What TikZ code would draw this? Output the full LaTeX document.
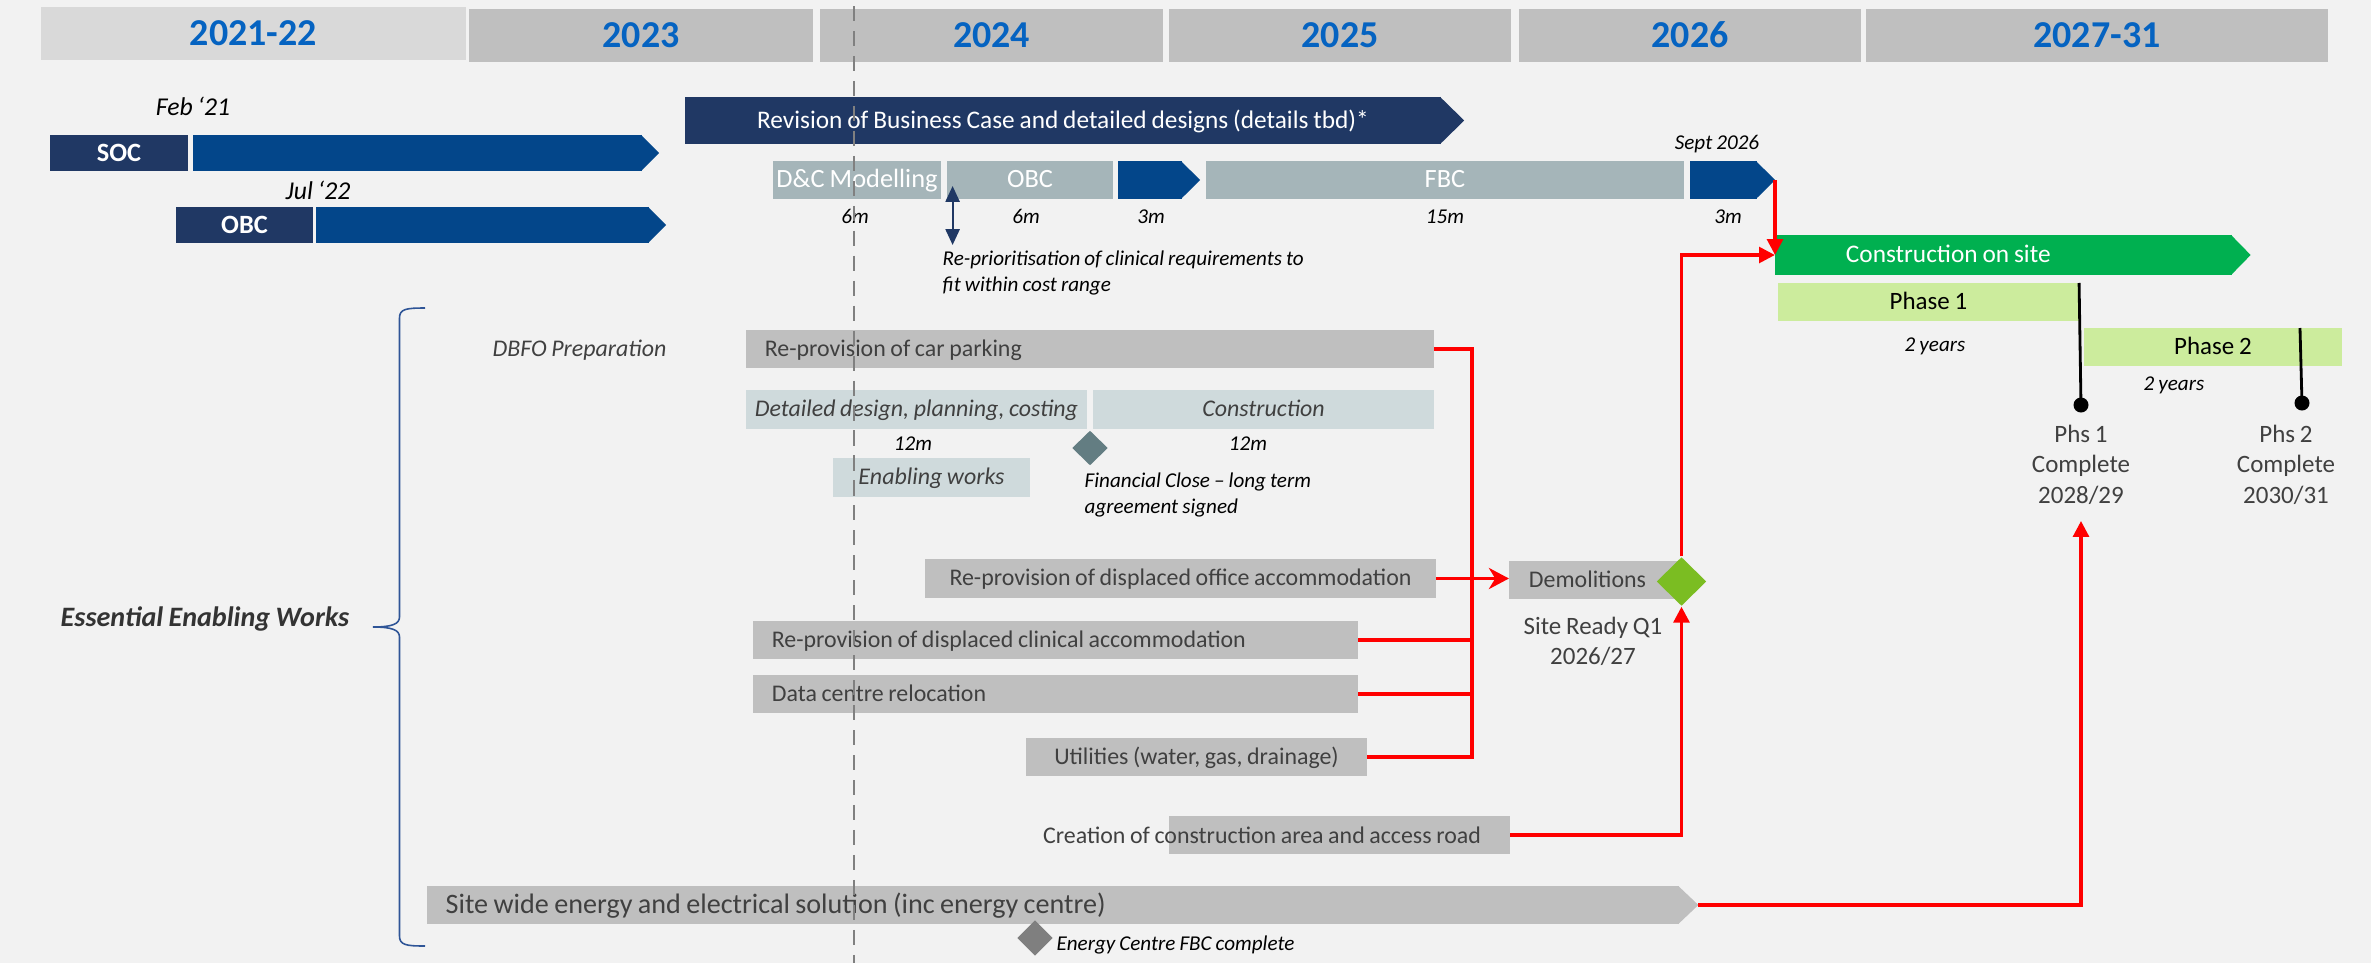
\documentclass[tikz,border=0pt]{standalone}
\usepackage{fontspec}
\setmainfont{Carlito}[WordSpace=0.85]
\usetikzlibrary{arrows.meta,shapes.geometric}
\newcommand{\normsp}{\spaceskip=0pt\xspaceskip=0pt\relax}
\definecolor{bgc}{HTML}{F2F2F2}
\definecolor{hdrlight}{HTML}{D9D9D9}
\definecolor{hdrgray}{HTML}{BFBFBF}
\definecolor{hdrblue}{HTML}{0563C1}
\definecolor{navy}{HTML}{203864}
\definecolor{midblue}{HTML}{03468A}
\definecolor{slate}{HTML}{A5B5B9}
\definecolor{paleslate}{HTML}{CFDADC}
\definecolor{fcdiamond}{HTML}{637D82}
\definecolor{boxgray}{HTML}{BFBFBF}
\definecolor{txtgray}{HTML}{404040}
\definecolor{cgreen}{HTML}{00B050}
\definecolor{lgreen}{HTML}{CCEC9D}
\definecolor{dgreen}{HTML}{7BBD22}
\definecolor{dgray}{HTML}{7F7F7F}
\definecolor{bracec}{HTML}{2F5597}
\definecolor{dashc}{HTML}{808080}
\definecolor{esscol}{HTML}{333333}
\begin{document}
\begin{tikzpicture}[x=0.01cm,y=-0.01cm,
  bx/.style={rectangle,inner sep=0pt,outer sep=0pt},
  hdr/.style={bx,minimum height=0.53cm,font=\fontsize{10.8}{13}\selectfont\bfseries,text=hdrblue,text height=6.8pt,text depth=0pt},
  f68/.style={font=\fontsize{6.8}{8.2}\selectfont,text height=4.1pt,text depth=0pt},
  f68it/.style={font=\fontsize{6.8}{8.2}\selectfont\itshape,text height=4.1pt,text depth=0pt},
  note/.style={font=\fontsize{6}{7.4}\selectfont\itshape,text height=3.6pt,text depth=0pt,inner sep=0pt},
  datelbl/.style={font=\fontsize{7.3}{8.8}\selectfont\itshape,text height=4.4pt,text depth=0pt,inner sep=0pt},
  wt/.style={text=white,font=\fontsize{7.5}{9}\selectfont,text height=4.5pt,text depth=0pt},
  wtb/.style={text=white,font=\fontsize{7.5}{9}\selectfont\bfseries,text height=4.8pt,text depth=0pt},
  rowbox/.style={bx,minimum height=0.38cm,wt},
  graybox/.style={bx,fill=boxgray,minimum height=0.38cm,f68,text=txtgray},
  palebox/.style={bx,fill=paleslate,minimum height=0.39cm,f68it,text=txtgray},
  phasebox/.style={bx,fill=lgreen,minimum height=0.38cm,font=\fontsize{7.1}{8.6}\selectfont,text height=4.3pt,text depth=0pt},
  milestone/.style={font=\fontsize{7.1}{8.7}\selectfont,text=txtgray,align=center,anchor=north,inner sep=0pt},
  dot/.style={circle,fill=black,minimum size=0.15cm,inner sep=0pt},
  conn/.style={draw=red,line width=0.9pt},
  tri/.style={-{Triangle[length=4.5pt,width=4.5pt]}}
]
\useasboundingbox (0,0) rectangle (2371,963);
\fill[bgc] (0,0) rectangle (2371,963);

% ---- year headers
\node[hdr,fill=hdrlight,minimum width=4.25cm] (y21) at (253.5,33.5) {2021-22};
\node[hdr,fill=hdrgray,minimum width=3.44cm] (y23) at (641,35.5) {2023};
\node[hdr,fill=hdrgray,minimum width=3.43cm] (y24) at (991.5,35.5) {2024};
\node[hdr,fill=hdrgray,minimum width=3.42cm] (y25) at (1340,35.5) {2025};
\node[hdr,fill=hdrgray,minimum width=3.42cm] (y26) at (1690,35.5) {2026};
\node[hdr,fill=hdrgray,minimum width=4.62cm] (y27) at (2097,35.5) {2027-31};

% ---- SOC / OBC
\node[datelbl] (feb) at (193,108) {Feb ‘21};
\node[bx,fill=navy,minimum width=1.38cm,minimum height=0.36cm,wtb] (soc) at (119,153) {SOC};
\node[bx,fill=midblue,minimum width=4.49cm,minimum height=0.36cm] (socbar) at (417.5,153) {};
\fill[midblue] ([xshift=-0.3pt]socbar.north east) -- ([xshift=0.17cm]socbar.east) -- ([xshift=-0.3pt]socbar.south east) -- cycle;

\node[datelbl] (jul) at (318,192) {Jul ‘22};
\node[bx,fill=navy,minimum width=1.37cm,minimum height=0.36cm,wtb] (obc1) at (244.5,225) {OBC};
\node[bx,fill=midblue,minimum width=3.33cm,minimum height=0.36cm] (obcbar) at (482.5,225) {};
\fill[midblue] ([xshift=-0.3pt]obcbar.north east) -- ([xshift=0.17cm]obcbar.east) -- ([xshift=-0.3pt]obcbar.south east) -- cycle;

% ---- revision arrow
\node[bx,fill=navy,minimum width=7.56cm,minimum height=0.47cm,text=white,font=\fontsize{7.2}{8.6}\selectfont,text height=4.3pt,text depth=0pt] (rev) at (1063,120.5) {Revision of Business Case and detailed designs (details tbd)*};
\fill[navy] ([xshift=-0.3pt]rev.north east) -- ([xshift=0.23cm]rev.east) -- ([xshift=-0.3pt]rev.south east) -- cycle;

% ---- business case row
\node[rowbox,fill=slate,minimum width=1.68cm] (dc) at (857,180) {D\&C Modelling};
\node[rowbox,fill=slate,minimum width=1.66cm] (obc2) at (1030,180) {OBC};
\node[bx,fill=midblue,minimum width=0.64cm,minimum height=0.38cm] (m3a) at (1150,180) {};
\fill[midblue] ([xshift=-0.3pt]m3a.north east) -- ([xshift=0.18cm]m3a.east) -- ([xshift=-0.3pt]m3a.south east) -- cycle;
\node[rowbox,fill=slate,minimum width=4.78cm] (fbc) at (1445,180) {FBC};
\node[bx,fill=midblue,minimum width=0.67cm,minimum height=0.38cm] (sept) at (1723.5,180) {};
\fill[midblue] ([xshift=-0.3pt]sept.north east) -- ([xshift=0.18cm]sept.east) -- ([xshift=-0.3pt]sept.south east) -- cycle;
\coordinate (septtip) at ([xshift=0.18cm]sept.east);
\node[note] (septlbl) at (1717,143) {Sept 2026};
\node[note] (dur1) at (855,217) {6m};
\node[note] (dur2) at (1026,217) {6m};
\node[note] (dur3) at (1151,217) {3m};
\node[note] (dur4) at (1445,217) {15m};
\node[note] (dur5) at (1728,217) {3m};

\coordinate (rpTop) at (952.6,186);
\coordinate (rpBot) at (952.6,245);
\draw[navy,line width=0.6pt,{Triangle[length=4.5pt,width=4pt]}-{Triangle[length=4.5pt,width=4pt]}] (rpTop) -- (rpBot);
\node[font=\fontsize{6}{7.4}\selectfont\itshape,align=left,anchor=north west,inner sep=0pt] (rpnote) at (942,250) {\normsp Re-prioritisation of clinical requirements to\\fit within cost range};

% ---- construction
\node[bx,fill=cgreen,minimum height=0.40cm,text width=3.15cm,inner xsep=0.71cm,align=left,text=white,font=\fontsize{7.2}{8.6}\selectfont,text height=4.3pt,text depth=0pt] (constr) at (2003.5,255) {\normsp Construction on site};
\fill[cgreen] ([xshift=-0.3pt]constr.north east) -- ([xshift=0.185cm]constr.east) -- ([xshift=-0.3pt]constr.south east) -- cycle;
\node[phasebox,minimum width=3.01cm] (ph1) at (1928.5,302) {Phase 1};
\node[note] (yrs1) at (1935,345) {2 years};
\node[phasebox,minimum width=2.58cm] (ph2) at (2213,347) {Phase 2};
\node[note] (yrs2) at (2174,384) {2 years};
\node[dot] (p1dot) at (2081,405) {};
\draw[line width=0.8pt] (ph1.north east) -- (p1dot.center);
\coordinate (p2top) at (2300,328);
\node[dot] (p2dot) at (2302,403) {};
\draw[line width=0.8pt] (p2top) -- (p2dot.center);
\node[milestone] (phs1) at (2081,424) {Phs 1\\Complete\\2028/29};
\node[milestone] (phs2) at (2286,424) {Phs 2\\Complete\\2030/31};

% ---- DBFO
\node[f68it,text=txtgray] (dbfo) at (579.5,349) {DBFO Preparation};
\node[graybox,text width=6.5cm,inner xsep=0.19cm,align=left] (carpark) at (1090,349) {\normsp Re-provision of car parking};
\node[palebox,minimum width=3.41cm] (detail) at (916.5,409.5) {Detailed design, planning, costing};
\node[palebox,minimum width=3.41cm] (constr2) at (1263.5,409.5) {Construction};
\node[note] (m12a) at (913,444) {12m};
\node[note] (m12b) at (1248,444) {12m};
\node[diamond,fill=fcdiamond,minimum width=0.36cm,minimum height=0.35cm,inner sep=0pt] (fc) at (1090,448) {};
\node[palebox,minimum width=1.97cm] (enab) at (931.5,477.5) {Enabling works};
\node[font=\fontsize{6}{7.4}\selectfont\itshape,align=left,anchor=north west,inner sep=0pt] (fctext) at (1084,472) {\normsp Financial Close – long term\\agreement signed};

% ---- enabling works
\node[graybox,minimum width=5.11cm,minimum height=0.39cm] (office) at (1180.5,578.5) {Re-provision of displaced office accommodation};
\node[graybox,text width=5.67cm,inner xsep=0.19cm,align=left] (clinical) at (1055.5,640) {\normsp Re-provision of displaced clinical accommodation};
\node[graybox,text width=5.67cm,inner xsep=0.19cm,align=left] (data) at (1055.5,694) {\normsp Data centre relocation};
\node[graybox,minimum width=3.41cm] (util) at (1196.5,757) {Utilities (water, gas, drainage)};
\node[graybox,minimum width=3.41cm] (creation) at (1339.5,835) {};
\node[f68,text=txtgray,inner sep=0pt] (creationtxt) at (1262,836) {Creation of construction area and access road};
\node[graybox,text width=12.14cm,inner xsep=0.19cm,align=left,font=\fontsize{8}{9.6}\selectfont,text height=4.8pt] (sitewide) at (1053,905) {\normsp Site wide energy and electrical solution (inc energy centre)};
\fill[boxgray] ([xshift=-0.3pt]sitewide.north east) -- ([xshift=0.19cm]sitewide.east) -- ([xshift=-0.3pt]sitewide.south east) -- cycle;
\coordinate (swtip) at ([xshift=0.19cm]sitewide.east);
\node[diamond,fill=dgray,minimum width=0.36cm,minimum height=0.36cm,inner sep=0pt] (ecd) at (1035,938) {};
\node[note,anchor=west] (ectext) at (1056,944) {Energy Centre FBC complete};

\node[graybox,text width=1.34cm,inner xsep=0.2cm,align=left] (demol) at (1596,580) {Demolitions};
\node[diamond,fill=dgreen,minimum width=0.50cm,minimum height=0.49cm,inner sep=0pt] (gd) at (1681.5,581.5) {};
\node[milestone,font=\fontsize{7.1}{8.8}\selectfont] (siteready) at (1593,616) {\normsp Site Ready Q1\\2026/27};

% ---- red connectors
\coordinate (busT) at (1472,349);
\coordinate (busB) at (1472,757);
\draw[conn] (carpark.east) -- (busT) -- (busB) -- (util.east);
\draw[conn] (clinical.east) -- (clinical.east -| busT);
\draw[conn] (data.east) -- (data.east -| busT);
\draw[conn,-{Stealth[length=5.7pt,width=6pt,inset=1.8pt]}] (office.east) -- (office.east -| demol.west);
\draw[conn,tri] (septtip) -- (septtip |- constr.west);
\draw[conn,tri] (gd.north) |- (constr.west);
\draw[conn,tri] (creation.east) -| (gd.south);
\coordinate (phs1in) at (2081,521);
\draw[conn,tri] (swtip) -| (phs1in);

% ---- dashed "today" line
\coordinate (dashT) at (854,6);
\coordinate (dashB) at (854,963);
\draw[dashc,line width=0.8pt,dash pattern=on 4.3pt off 2.8pt] (dashT) -- (dashB);

% ---- brace and group label
\draw[bracec,line width=0.45pt] (425,308) .. controls (406,308) and (399.5,309) .. (399.5,318) -- (399.5,617) .. controls (399.5,624) and (392,627) .. (373,627) .. controls (392,627) and (399.5,630) .. (399.5,637) -- (399.5,936) .. controls (399.5,945) and (406,946) .. (425,946);
\node[font=\fontsize{8}{10}\selectfont\bfseries\itshape,text=esscol,text height=4.8pt,text depth=0pt] (ess) at (205,618) {Essential Enabling Works};
\end{tikzpicture}
\end{document}
